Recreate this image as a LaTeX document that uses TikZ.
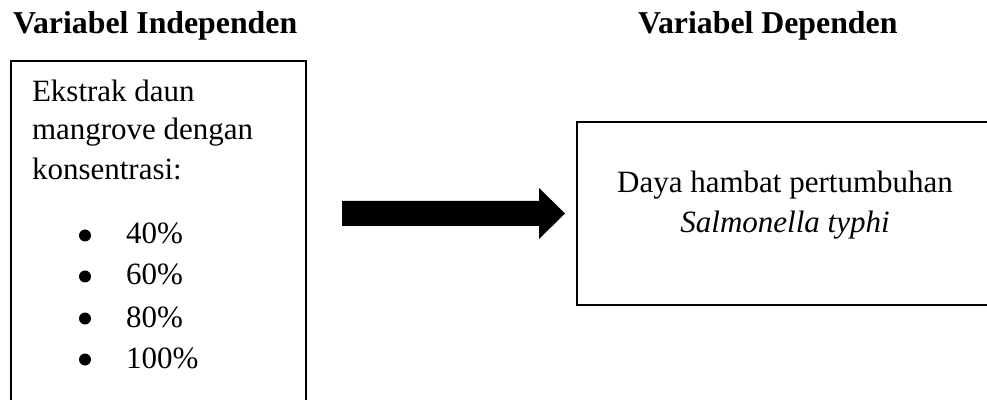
\documentclass[tikz,border=0pt]{standalone}
\usepackage{fontspec}
\setmainfont{Liberation Serif}
\begin{document}
\begin{tikzpicture}[x=1pt,y=1pt,
  every node/.style={inner sep=0pt, outer sep=0pt},
  body/.style={font=\fontsize{31}{40}\selectfont},
  heading/.style={font=\fontsize{31.8}{40}\selectfont\bfseries},
  frame/.style={draw=black, line width=2.2pt},
  dot/.style={fill=black}]
\useasboundingbox (0,0) rectangle (987,399);
\clip (0,0) rectangle (987,399);

% column headings
\node[heading, anchor=base west] (hindep) at (13,365) {Variabel Independen};
\node[heading, anchor=base west] (hdep) at (638,365) {Variabel Dependen};

% independent variable box (runs past the lower edge)
\draw[frame] (11,338) rectangle (306,-20);
\node[body, anchor=base west] (l1) at (32,297) {Ekstrak daun};
\node[body, anchor=base west] (l2) at (32,259) {mangrove dengan};
\node[body, anchor=base west] (l3) at (32,219) {konsentrasi:};

% concentration list
\foreach \y/\txt [count=\i] in {155/40\%, 114/60\%, 72/80\%, 31/100\%}{
  \fill[dot] (85,\y+8.5) circle (6);
  \node[body, anchor=base west] (c\i) at (126,\y) {\txt};
}

% block arrow
\coordinate (atail) at (342,185.5);
\coordinate (atip) at (565,185.5);
\fill[black] (atail) ++(0,12.5) -- ++(197,0) -- ++(0,13) -- (atip)
  -- ++(-26,-25.5) -- ++(0,13) -- ++(-197,0) -- cycle;

% dependent variable box (runs past the right edge)
\draw[frame] (577,277) rectangle (1010,94);
\node[body, anchor=base] (r1) at (785,206) {Daya hambat pertumbuhan};
\node[body, anchor=base] (r2) at (785,166) {\textit{Salmonella typhi}};
\end{tikzpicture}
\end{document}
